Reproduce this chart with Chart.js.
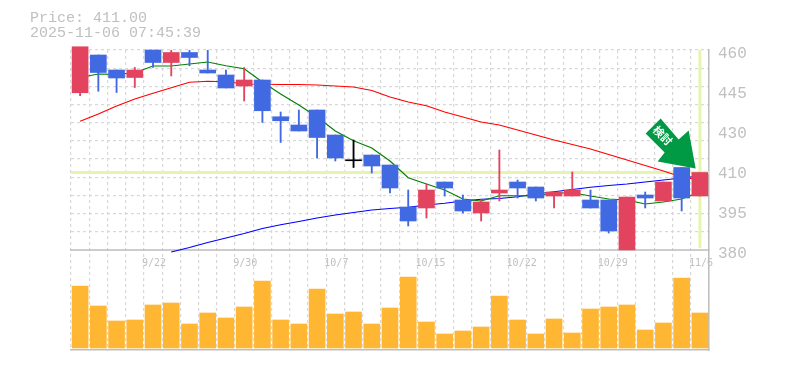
<!DOCTYPE html>
<html>
<head>
<meta charset="utf-8">
<style>
  html, body { margin: 0; padding: 0; background: #fff; }
  canvas { display: block; }
</style>
<script src="https://cdn.jsdelivr.net/npm/chart.js@4"></script>
</head>
<body>
<canvas id="price-chart" width="785" height="370"></canvas>
<script>
const dates = ['9/16','9/17','9/18','9/19','9/22','9/24','9/25','9/26','9/29','9/30',
  '10/1','10/2','10/3','10/6','10/7','10/8','10/9','10/10','10/14','10/15',
  '10/16','10/17','10/20','10/21','10/22','10/23','10/24','10/27','10/28','10/29',
  '10/30','10/31','11/4','11/5','11/6'];
const dateTicks = ['9/22','9/30','10/7','10/15','10/22','10/29','11/6'];

const opens = [442.9,458,452,449,460,455,459,452,450,445.6,448,433.3,430,436,426,415.7,418,414,397.2,396.8,
  407.2,400,394.8,402.8,407.2,405.2,401.6,401.6,400,400,380,402,399.6,413,401.6];
const highs = [461.3,458,452,453,460,460,460,460,452,453,448,435.2,436,436,426,424,418,414,404,406.4,
  407.2,402,400,420,408,405.2,403.2,411.2,404,400,401.2,403.2,407.2,413,411];
const lows = [441.7,443.5,443,445,453,449.6,453.7,450.8,444.8,439.6,431,423,427.6,416.8,415.6,413,410.8,402.8,389.6,392.8,
  401.6,394.8,391.6,399.6,400.8,399.6,396.8,401.6,396.8,386.8,380,396.8,399.6,395.6,401.6];
const closes = [461.3,451,448.8,452,455,459,457,450.8,444.8,448,435.7,431.7,427.6,425,416.8,416.1,413.6,404.8,391.6,404,
  404.8,395.6,399.2,404,404.8,400.8,403.2,404,396.8,387.6,401.2,400.8,407.2,400.8,411];

const maShort = [449,450.4,450.3,450.9,453.6,453.6,454.4,455.2,453.7,452.5,447.2,442.4,438,433.2,427.6,423.7,420.8,415.6,408.9,406.4,
  404,400.4,399.6,401.7,401.7,401.6,402.8,402.9,401.6,400.4,400,398.4,399.2,400.4,403.2];
const maMiddle = [431.5,434.4,437.6,440.4,442.7,444.9,447.1,447.5,447.3,446.4,446.3,446.2,446.2,446,445.6,445.2,443.8,441.2,439.2,437.7,
  435.2,433.2,431.2,430,428,426,424,422.2,420.4,418.2,416,413.8,411.6,409.2,408];
const maLong = [null,null,null,null,null,379.2,381,383,384.8,386.6,388.6,390.1,391.4,392.8,394,395,396,396.6,397.1,398,
  398.7,399.6,400.3,400.6,401.3,402.4,403.3,404.2,405.1,405.8,406.4,407.2,408,408.8,409.6];

const volumes = [62,42,27,28,43,45,24,35,30,41,67,28,24,59,34,36,24,40,71,26,
  14,17,21,52,28,14,29,15,39,41,43,18,25,70,35];

const currentPrice = 411;
const priceMin = 380;
const priceMax = 460;
const priceTickValues = [380,396,412,428,444,460];
const priceTickLabels = ['380','395','410','430','445','460'];
const priceGridCount = 11;

const priceLines = ['Price: 411.00', '2025-11-06 07:45:39'];
const badgeText = '検討';

const upColor = '#e2435f';
const downColor = '#4169e1';
const dojiColor = '#000000';
const gridColor = '#d8d8d8';
const frameColor = '#bdbdbd';
const textColor = '#c0c0c0';
const highlightColor = '#e6f5ae';
const badgeColor = '#009944';
const monoFont = '"Liberation Mono", monospace';
const tickFont = '"DejaVu Sans Mono", monospace';

function candleColor(i) {
    if (Math.abs(closes[i] - opens[i]) < 0.5) return dojiColor;
    return closes[i] > opens[i] ? upColor : downColor;
}

function maDataset(data, color) {
    return {
        type: 'line',
        data: data,
        borderColor: color,
        borderWidth: 1.2,
        pointRadius: 0,
        tension: 0,
        clip: false,
        order: 5
    };
}

// highlight lines, solid divider, header text and the arrow badge
const decorations = {
    id: 'decorations',
    beforeDatasetsDraw(chart) {
        let ctx = chart.ctx;
        let area = chart.chartArea;
        let x = chart.scales.x;
        let y = chart.scales.y;
        ctx.save();
        ctx.strokeStyle = highlightColor;
        ctx.lineWidth = 3;
        ctx.beginPath();
        ctx.moveTo(area.left, y.getPixelForValue(currentPrice));
        ctx.lineTo(area.right, y.getPixelForValue(currentPrice));
        ctx.moveTo(x.getPixelForValue(dates.length - 1), area.top);
        ctx.lineTo(x.getPixelForValue(dates.length - 1), y.getPixelForValue(priceMin) - 2);
        ctx.stroke();
        ctx.strokeStyle = frameColor;
        ctx.lineWidth = 1.5;
        ctx.beginPath();
        ctx.moveTo(area.left - 1, y.getPixelForValue(priceMin));
        ctx.lineTo(area.right, y.getPixelForValue(priceMin));
        ctx.stroke();
        ctx.restore();
    },
    afterDatasetsDraw(chart) {
        let ctx = chart.ctx;
        ctx.save();
        ctx.fillStyle = textColor;
        ctx.font = '15px ' + monoFont;
        ctx.textBaseline = 'middle';
        ctx.fillText(priceLines[0], 30, 18);
        ctx.fillText(priceLines[1], 30, 33);

        let tipX = chart.scales.x.getPixelForValue(33) + 14;
        let tipY = chart.scales.y.getPixelForValue(currentPrice) - 4;
        let arrow = [[-35,-50],[-50,-35],[-31,-16],[-38,-7],[0,0],[-7,-38],[-17,-29]];
        ctx.fillStyle = badgeColor;
        ctx.beginPath();
        arrow.forEach(function (p) { ctx.lineTo(tipX + p[0], tipY + p[1]); });
        ctx.closePath();
        ctx.fill();

        ctx.translate(tipX - 33, tipY - 33);
        ctx.rotate(Math.PI / 4);
        ctx.fillStyle = '#ffffff';
        ctx.font = 'bold 11px "Noto Sans CJK JP"';
        ctx.textAlign = 'center';
        ctx.textBaseline = 'middle';
        ctx.fillText(badgeText, 0, 0);
        ctx.restore();
    }
};

let canvas = document.getElementById('price-chart');
let priceChart = new Chart(canvas.getContext('2d'), {
    type: 'bar',
    plugins: [decorations],
    data: {
        labels: dates,
        datasets: [
            maDataset(maShort, '#008000'),
            maDataset(maMiddle, '#ff0000'),
            maDataset(maLong, '#0000ff'),
            {
                data: dates.map((d, i) => [lows[i], highs[i]]),
                backgroundColor: dates.map((d, i) => candleColor(i)),
                barThickness: 1.2,
                grouped: false,
                order: 3
            },
            {
                data: dates.map((d, i) => [opens[i], closes[i]]),
                backgroundColor: dates.map((d, i) => candleColor(i)),
                barThickness: 16,
                grouped: false,
                clip: false,
                order: 2
            },
            {
                data: volumes,
                yAxisID: 'yVolume',
                backgroundColor: '#ffb733',
                barThickness: 16,
                grouped: false,
                order: 4
            }
        ]
    },
    options: {
        responsive: false,
        animation: false,
        events: [],
        layout: { padding: { left: 71, top: 50, right: 0, bottom: 20 } },
        plugins: { legend: { display: false }, tooltip: { enabled: false } },
        scales: {
            x: {
                type: 'category',
                offset: true,
                grid: { offset: true, color: gridColor, drawTicks: false, lineWidth: 1.2 },
                border: { color: frameColor, width: 1.5, dash: [3, 3] },
                ticks: { display: false },
                afterFit(scale) { scale.height = 0; }
            },
            xDates: {
                type: 'category',
                offset: true,
                position: { y: priceMin },
                grid: { display: false, drawTicks: false },
                border: { display: false },
                ticks: {
                    autoSkip: false,
                    maxRotation: 0,
                    align: 'start',
                    labelOffset: -11,
                    padding: 7,
                    color: textColor,
                    font: { family: tickFont, size: 10 },
                    callback(value) {
                        let label = this.getLabelForValue(value);
                        return dateTicks.includes(label) ? label : '';
                    }
                }
            },
            y: {
                position: 'right',
                stack: 'panels',
                stackWeight: 2,
                min: priceMin,
                max: priceMax,
                afterBuildTicks(scale) {
                    let ticks = priceTickValues.map(v => ({ value: v }));
                    for (let i = 1; i < priceGridCount; i++) {
                        ticks.push({ value: priceMax - (priceMax - priceMin) * i / priceGridCount });
                    }
                    scale.ticks = ticks.sort((a, b) => a.value - b.value);
                },
                afterFit(scale) { scale.width = 76; },
                grid: {
                    drawTicks: false,
                    lineWidth: 1.2,
                    color(ctx) {
                        let v = ctx.tick.value;
                        let labelOnly = priceTickValues.includes(v) && v !== priceMax;
                        return labelOnly ? 'rgba(0,0,0,0)' : gridColor;
                    }
                },
                border: { color: frameColor, width: 1.5, dash: [3, 3] },
                ticks: {
                    autoSkip: false,
                    padding: 9,
                    labelOffset: 4,
                    color: textColor,
                    font: { family: monoFont, size: 16 },
                    callback(value) {
                        let i = priceTickValues.indexOf(value);
                        return i >= 0 ? priceTickLabels[i] : '';
                    }
                }
            },
            yVolume: {
                position: 'right',
                stack: 'panels',
                stackWeight: 1,
                min: -2,
                max: 98,
                afterFit(scale) { scale.width = 76; },
                grid: { display: false, drawTicks: false },
                border: { color: frameColor, width: 1.5 },
                ticks: { display: false }
            }
        }
    }
});
</script>
</body>
</html>
